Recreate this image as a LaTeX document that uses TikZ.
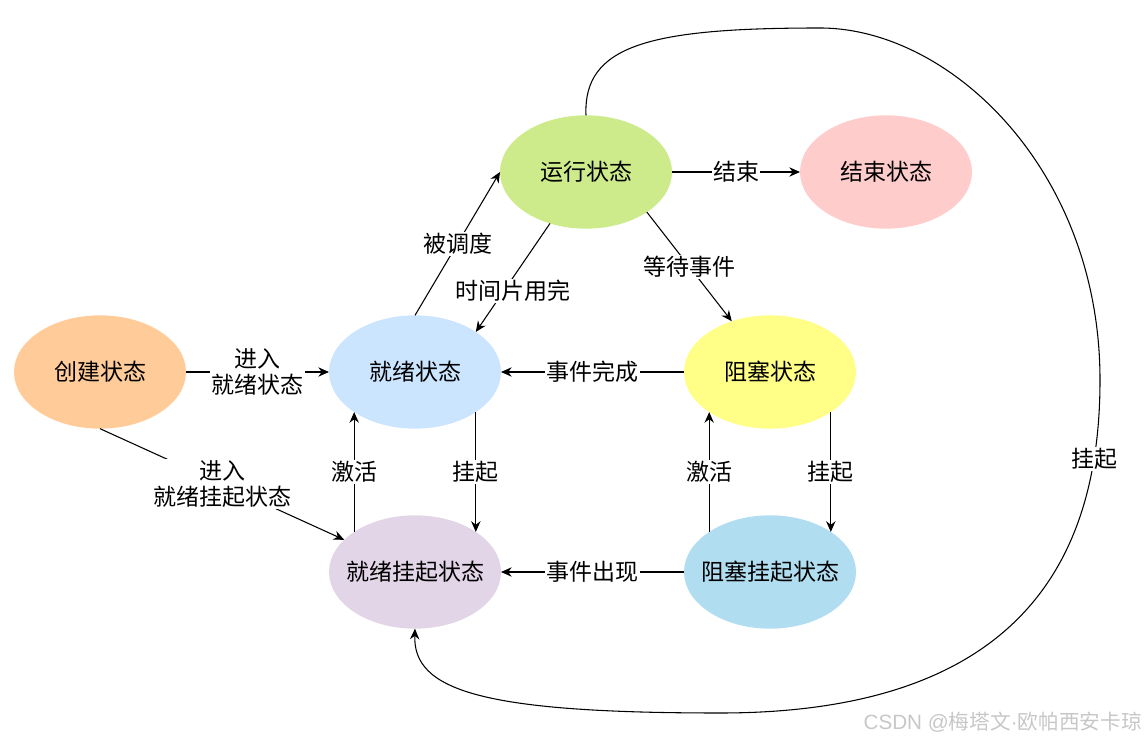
\documentclass[tikz,border=0pt]{standalone}
\usepackage{fontspec}
\setmainfont{Noto Sans CJK SC}
\newfontfamily\latinfont{Liberation Sans}
\usepackage{tikz}
\usetikzlibrary{shapes.geometric,arrows.meta}
\definecolor{createfill}{HTML}{FFCC99}
\definecolor{readyfill}{HTML}{CCE5FF}
\definecolor{runfill}{HTML}{CDEB8B}
\definecolor{endfill}{HTML}{FFCCCC}
\definecolor{blockfill}{HTML}{FFFF88}
\definecolor{rsusfill}{HTML}{E1D5E7}
\definecolor{bsusfill}{HTML}{B1DDF0}
\newcommand\labelfont{\fontsize{17.25}{20}\selectfont}

\begin{document}
\begin{tikzpicture}[x=0.75pt,y=-0.75pt,
    state/.style={ellipse,fill=#1,minimum width=129pt,minimum height=85pt,
      inner xsep=-12pt,inner ysep=0pt,outer sep=0pt,font=\labelfont},
    lbl/.style={fill=white,inner sep=1pt,align=center,font=\labelfont},
    link/.style={-{Stealth[length=8pt,width=7pt]},line width=0.8pt}]

    \useasboundingbox (0,0) rectangle (1146,741);

    % states
    \node[state=createfill] (create) at (100,372) {创建状态};
    \node[state=readyfill]  (ready)  at (415,372) {就绪状态};
    \node[state=runfill]    (run)    at (586,172) {运行状态};
    \node[state=endfill]    (finish) at (886,172) {结束状态};
    \node[state=blockfill]  (block)  at (770,372) {阻塞状态};
    \node[state=rsusfill]   (rsus)   at (415,572) {就绪挂起状态};
    \node[state=bsusfill]   (bsus)   at (770,572) {阻塞挂起状态};

    % transitions
    \draw[link] (create) -- (ready) node[lbl,pos=0.5] {进入\\就绪状态};
    \draw[link] (create.south) -- (rsus) node[lbl,pos=0.5] {进入\\就绪挂起状态};
    \draw[link] (ready.north) -- (run.west) node[lbl,pos=0.5] {被调度};
    \draw[link] (run.235) -- (ready.north east) node[lbl,pos=0.62,xshift=7pt] {时间片用完};
    \draw[link] (run.south east) -- (block.127) node[lbl,pos=0.5] {等待事件};
    \draw[link] (run) -- (finish) node[lbl,pos=0.5] {结束};
    \draw[link] (block) -- (ready) node[lbl,pos=0.5] {事件完成};
    \draw[link] (bsus) -- (rsus) node[lbl,pos=0.5] {事件出现};
    \draw[link] (ready.south east) -- (rsus.north east) node[lbl,pos=0.5] {挂起};
    \draw[link] (rsus.north west) -- (ready.south west) node[lbl,pos=0.5] {激活};
    \draw[link] (bsus.north west) -- (block.south west) node[lbl,pos=0.5] {激活};
    \draw[link] (block.south east) -- (bsus.north east) node[lbl,pos=0.5] {挂起};

    % long way round from running to ready-suspended
    \draw[link] (run.north) .. controls (583,45) and (650,28) .. (820,28)
      .. controls (950,28) and (1100,170) .. (1100,380)
      .. controls (1100,560) and (1020,713) .. (720,713)
      node[lbl,pos=0.15] {挂起}
      .. controls (480,713) and (413,690) .. (rsus.south);

    \node[anchor=east,text=black!22,inner sep=0pt,font=\fontsize{15.5}{18}\selectfont]
      (mark) at (1142,722) {{\latinfont CSDN @}梅塔文{\latinfont ·}欧帕西安卡琼};

\end{tikzpicture}
\end{document}
